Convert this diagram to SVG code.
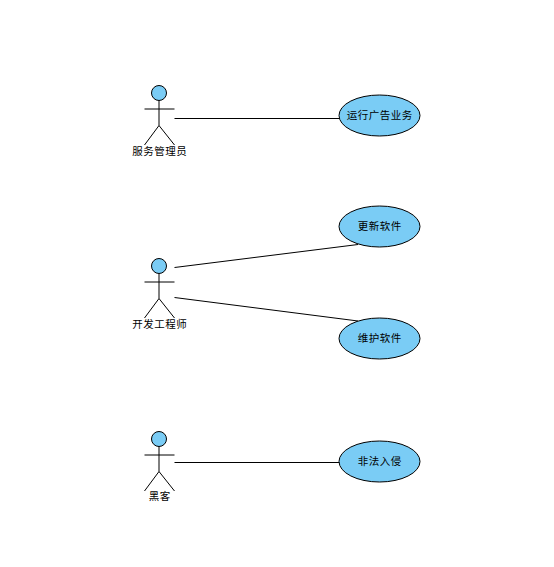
<svg xmlns="http://www.w3.org/2000/svg" width="554" height="567" viewBox="0 0 554 567">
<style>
.s{stroke:#000;stroke-width:1;fill:none}
.f{fill:#7accf5;stroke:#000;stroke-width:1}
text{font-family:"Liberation Sans","Noto Sans CJK SC",sans-serif;font-size:10.500px;letter-spacing:0.500px;fill:#000;text-anchor:middle}
</style>
<defs>
<g id="actor">
<circle class="f" cx="-0.500" cy="8" r="7.500"/>
<path class="s" d="M-0.500 15.500V40.500M-15 24H15M-15 60L-0.500 40.500L15 60"/>
</g>
</defs>
<rect width="554" height="567" fill="#fff"/>
<g id="connectors">
<path class="s" d="M174.500 118.500H340"/>
<path class="s" d="M174.500 267.500L358 244.500"/>
<path class="s" d="M174.500 297.500L358 321"/>
<path class="s" d="M174.500 462.500H340"/>
</g>
<g id="actor-admin"><use href="#actor" x="159.500" y="85"/><text x="159.800" y="154.500">服务管理员</text></g>
<g id="actor-dev"><use href="#actor" x="159.500" y="258"/><text x="159.800" y="327.500">开发工程师</text></g>
<g id="actor-hacker"><use href="#actor" x="159.500" y="431"/><text x="159.800" y="500">黑客</text></g>
<g id="uc-run"><ellipse class="f" cx="379.500" cy="115.500" rx="40.500" ry="20.500"/><text x="379.800" y="119">运行广告业务</text></g>
<g id="uc-update"><ellipse class="f" cx="379.500" cy="226.500" rx="40.500" ry="20.500"/><text x="379.800" y="230">更新软件</text></g>
<g id="uc-maintain"><ellipse class="f" cx="379.500" cy="338.500" rx="40.500" ry="20.500"/><text x="379.800" y="342">维护软件</text></g>
<g id="uc-intrude"><ellipse class="f" cx="379.500" cy="461.500" rx="40.500" ry="20.500"/><text x="379.800" y="465">非法入侵</text></g>
</svg>
